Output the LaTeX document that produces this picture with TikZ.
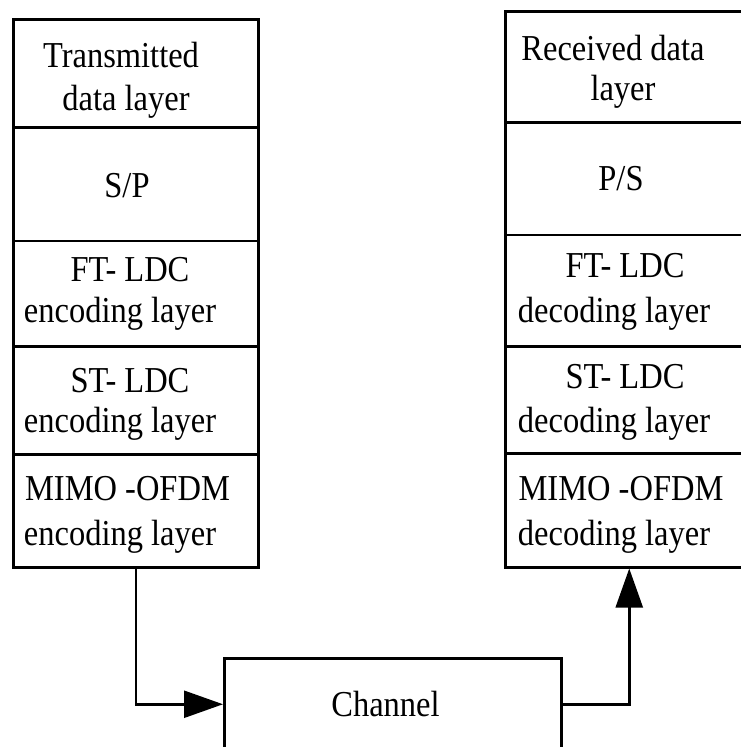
\documentclass[tikz,border=0pt]{standalone}
\usepackage{fontspec}
\setmainfont{Liberation Serif}[FakeStretch=0.89]
\usetikzlibrary{arrows.meta}
\begin{document}
\begin{tikzpicture}[x=1pt,y=-1pt,
  box/.style={draw, line width=2.5pt, inner sep=0pt, anchor=north west},
  lbl/.style={anchor=base, inner sep=0pt, font=\fontsize{36.5}{40}\selectfont},
  conn/.style={line width=2.5pt, -{Triangle[length=39pt,width=27pt]}}]
\useasboundingbox (0,0) rectangle (741,747);
\clip (0,0) rectangle (741,747);
% transmitter column
\node[box, minimum width=245pt, minimum height=108pt]   (t1) at (12,18) {};
\node[box, minimum width=245pt, minimum height=113.5pt] (t2) at (12,126) {};
\node[box, minimum width=245pt, minimum height=105.5pt] (t3) at (12,239.5) {};
\node[box, minimum width=245pt, minimum height=108pt]   (t4) at (12,345) {};
\node[box, minimum width=245pt, minimum height=113pt]   (t5) at (12,453) {};
% receiver column
\node[box, minimum width=248pt, minimum height=111pt]   (r1) at (504,10) {};
\node[box, minimum width=248pt, minimum height=112.5pt] (r2) at (504,121) {};
\node[box, minimum width=248pt, minimum height=111.5pt] (r3) at (504,233.5) {};
\node[box, minimum width=248pt, minimum height=107pt]   (r4) at (504,345) {};
\node[box, minimum width=248pt, minimum height=114pt]   (r5) at (504,452) {};
% channel
\node[box, minimum width=337pt, minimum height=92pt]    (ch) at (223,657) {};
% labels left
\node[lbl] (lt1a) at (121,67)  {Transmitted};
\node[lbl] (lt1b) at (126,110) {data layer};
\node[lbl] (lt2)  at (127,197) {S/P};
\node[lbl] (lt3a) at (130,281) {FT- LDC};
\node[lbl] (lt3b) at (120,322) {encoding layer};
\node[lbl] (lt4a) at (130,392) {ST- LDC};
\node[lbl] (lt4b) at (120,432) {encoding layer};
\node[lbl] (lt5a) at (127.5,500) {MIMO -OFDM};
\node[lbl] (lt5b) at (120,545) {encoding layer};
% labels right
\node[lbl] (lr1a) at (613,60)  {Received data};
\node[lbl] (lr1b) at (623,100) {layer};
\node[lbl] (lr2)  at (621,190) {P/S};
\node[lbl] (lr3a) at (625,277) {FT- LDC};
\node[lbl] (lr3b) at (614,322) {decoding layer};
\node[lbl] (lr4a) at (625,388) {ST- LDC};
\node[lbl] (lr4b) at (614,432) {decoding layer};
\node[lbl] (lr5a) at (621,500) {MIMO -OFDM};
\node[lbl] (lr5b) at (614,545) {decoding layer};
\node[lbl] (lch)  at (385.5,716) {Channel};
% connectors
\draw[conn] (t5.south) |- (ch.west);
\draw[conn] (ch.east) -| (r5.south);
\end{tikzpicture}
\end{document}
